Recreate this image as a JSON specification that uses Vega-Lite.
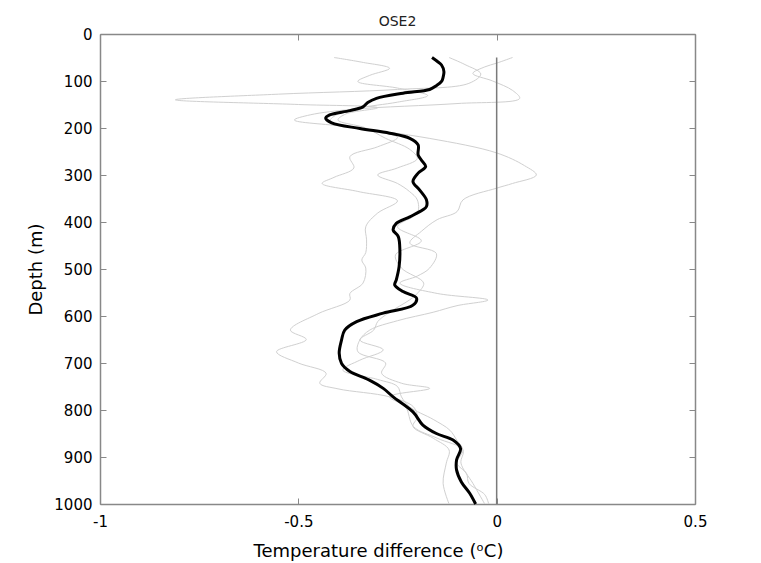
{
  "$schema": "https://vega.github.io/schema/vega-lite/v6.json",
  "width": 595,
  "height": 470,
  "autosize": {"type": "none"},
  "padding": {"left": 100, "top": 34, "right": 66, "bottom": 59},
  "background": "white",
  "config": {
    "view": {"stroke": null},
    "font": "DejaVu Sans"
  },
  "title": {"text": "OSE2", "fontSize": 14, "font": "DejaVu Sans", "fontWeight": "normal", "color": "#222", "offset": 5, "dy": 7, "anchor": "middle"},
  "datasets": {
    "mean": [
      {"depth": 50, "diff": -0.163}, {"depth": 58, "diff": -0.15}, {"depth": 66, "diff": -0.139}, {"depth": 80, "diff": -0.133},
      {"depth": 92, "diff": -0.135}, {"depth": 101, "diff": -0.139}, {"depth": 110, "diff": -0.152}, {"depth": 118, "diff": -0.169},
      {"depth": 126, "diff": -0.236}, {"depth": 137, "diff": -0.303}, {"depth": 146, "diff": -0.325}, {"depth": 155, "diff": -0.337},
      {"depth": 163, "diff": -0.37}, {"depth": 172, "diff": -0.421}, {"depth": 179, "diff": -0.431}, {"depth": 189, "diff": -0.416},
      {"depth": 201, "diff": -0.345}, {"depth": 211, "diff": -0.27}, {"depth": 222, "diff": -0.219}, {"depth": 236, "diff": -0.198},
      {"depth": 257, "diff": -0.198}, {"depth": 268, "diff": -0.19}, {"depth": 282, "diff": -0.179}, {"depth": 296, "diff": -0.198},
      {"depth": 314, "diff": -0.211}, {"depth": 332, "diff": -0.194}, {"depth": 353, "diff": -0.177}, {"depth": 367, "diff": -0.177},
      {"depth": 374, "diff": -0.186}, {"depth": 389, "diff": -0.219}, {"depth": 403, "diff": -0.253}, {"depth": 417, "diff": -0.261},
      {"depth": 431, "diff": -0.248}, {"depth": 460, "diff": -0.244}, {"depth": 495, "diff": -0.246}, {"depth": 523, "diff": -0.253},
      {"depth": 534, "diff": -0.257}, {"depth": 548, "diff": -0.236}, {"depth": 562, "diff": -0.202}, {"depth": 577, "diff": -0.211},
      {"depth": 594, "diff": -0.286}, {"depth": 612, "diff": -0.353}, {"depth": 630, "diff": -0.383}, {"depth": 651, "diff": -0.391},
      {"depth": 679, "diff": -0.397}, {"depth": 701, "diff": -0.391}, {"depth": 718, "diff": -0.37}, {"depth": 736, "diff": -0.322},
      {"depth": 754, "diff": -0.286}, {"depth": 772, "diff": -0.261}, {"depth": 804, "diff": -0.211}, {"depth": 832, "diff": -0.186},
      {"depth": 850, "diff": -0.152}, {"depth": 864, "diff": -0.11}, {"depth": 882, "diff": -0.091}, {"depth": 906, "diff": -0.101},
      {"depth": 928, "diff": -0.101}, {"depth": 953, "diff": -0.089}, {"depth": 977, "diff": -0.068}, {"depth": 1000, "diff": -0.053}
    ],
    "members": [
      {"run": "A", "depth": 50, "diff": -0.41}, {"run": "A", "depth": 60, "diff": -0.34}, {"run": "A", "depth": 73, "diff": -0.27},
      {"run": "A", "depth": 88, "diff": -0.32}, {"run": "A", "depth": 101, "diff": -0.35}, {"run": "A", "depth": 115, "diff": -0.25},
      {"run": "A", "depth": 131, "diff": -0.174}, {"run": "A", "depth": 145, "diff": -0.25}, {"run": "A", "depth": 158, "diff": -0.35},
      {"run": "A", "depth": 170, "diff": -0.4}, {"run": "A", "depth": 185, "diff": -0.42}, {"run": "A", "depth": 200, "diff": -0.35},
      {"run": "A", "depth": 220, "diff": -0.25}, {"run": "A", "depth": 240, "diff": -0.3}, {"run": "A", "depth": 261, "diff": -0.37},
      {"run": "A", "depth": 285, "diff": -0.36}, {"run": "A", "depth": 305, "diff": -0.41}, {"run": "A", "depth": 318, "diff": -0.44},
      {"run": "A", "depth": 335, "diff": -0.35}, {"run": "A", "depth": 355, "diff": -0.25}, {"run": "A", "depth": 381, "diff": -0.3},
      {"run": "A", "depth": 410, "diff": -0.33}, {"run": "A", "depth": 438, "diff": -0.328}, {"run": "A", "depth": 465, "diff": -0.33},
      {"run": "A", "depth": 481, "diff": -0.34}, {"run": "A", "depth": 498, "diff": -0.33}, {"run": "A", "depth": 530, "diff": -0.337},
      {"run": "A", "depth": 552, "diff": -0.37}, {"run": "A", "depth": 566, "diff": -0.37}, {"run": "A", "depth": 595, "diff": -0.45},
      {"run": "A", "depth": 630, "diff": -0.52}, {"run": "A", "depth": 650, "diff": -0.48}, {"run": "A", "depth": 676, "diff": -0.555},
      {"run": "A", "depth": 700, "diff": -0.5}, {"run": "A", "depth": 722, "diff": -0.43}, {"run": "A", "depth": 743, "diff": -0.446},
      {"run": "A", "depth": 755, "diff": -0.4}, {"run": "A", "depth": 772, "diff": -0.27}, {"run": "A", "depth": 793, "diff": -0.21},
      {"run": "A", "depth": 815, "diff": -0.2}, {"run": "A", "depth": 835, "diff": -0.211}, {"run": "A", "depth": 860, "diff": -0.16},
      {"run": "A", "depth": 885, "diff": -0.12}, {"run": "A", "depth": 913, "diff": -0.127}, {"run": "A", "depth": 956, "diff": -0.135},
      {"run": "A", "depth": 1000, "diff": -0.12},
      {"run": "B", "depth": 50, "diff": -0.12}, {"run": "B", "depth": 65, "diff": -0.08}, {"run": "B", "depth": 85, "diff": -0.04},
      {"run": "B", "depth": 105, "diff": -0.07}, {"run": "B", "depth": 118, "diff": -0.25}, {"run": "B", "depth": 128, "diff": -0.55},
      {"run": "B", "depth": 140, "diff": -0.81}, {"run": "B", "depth": 150, "diff": -0.5}, {"run": "B", "depth": 157, "diff": -0.3},
      {"run": "B", "depth": 170, "diff": -0.38}, {"run": "B", "depth": 183, "diff": -0.4}, {"run": "B", "depth": 200, "diff": -0.33},
      {"run": "B", "depth": 222, "diff": -0.28}, {"run": "B", "depth": 245, "diff": -0.22}, {"run": "B", "depth": 265, "diff": -0.2},
      {"run": "B", "depth": 285, "diff": -0.25}, {"run": "B", "depth": 300, "diff": -0.3}, {"run": "B", "depth": 318, "diff": -0.25},
      {"run": "B", "depth": 335, "diff": -0.22}, {"run": "B", "depth": 353, "diff": -0.2}, {"run": "B", "depth": 381, "diff": -0.2},
      {"run": "B", "depth": 410, "diff": -0.25}, {"run": "B", "depth": 440, "diff": -0.19}, {"run": "B", "depth": 470, "diff": -0.255},
      {"run": "B", "depth": 498, "diff": -0.24}, {"run": "B", "depth": 530, "diff": -0.184}, {"run": "B", "depth": 552, "diff": -0.2},
      {"run": "B", "depth": 566, "diff": -0.22}, {"run": "B", "depth": 592, "diff": -0.27}, {"run": "B", "depth": 612, "diff": -0.3},
      {"run": "B", "depth": 630, "diff": -0.31}, {"run": "B", "depth": 651, "diff": -0.345}, {"run": "B", "depth": 672, "diff": -0.286},
      {"run": "B", "depth": 694, "diff": -0.345}, {"run": "B", "depth": 715, "diff": -0.388}, {"run": "B", "depth": 735, "diff": -0.3},
      {"run": "B", "depth": 750, "diff": -0.25}, {"run": "B", "depth": 772, "diff": -0.24}, {"run": "B", "depth": 793, "diff": -0.22},
      {"run": "B", "depth": 820, "diff": -0.16}, {"run": "B", "depth": 843, "diff": -0.118}, {"run": "B", "depth": 865, "diff": -0.1},
      {"run": "B", "depth": 885, "diff": -0.085}, {"run": "B", "depth": 913, "diff": -0.1}, {"run": "B", "depth": 935, "diff": -0.076},
      {"run": "B", "depth": 956, "diff": -0.07}, {"run": "B", "depth": 980, "diff": -0.03}, {"run": "B", "depth": 1000, "diff": -0.02},
      {"run": "C", "depth": 50, "diff": 0.04}, {"run": "C", "depth": 62, "diff": 0.0}, {"run": "C", "depth": 70, "diff": -0.03},
      {"run": "C", "depth": 84, "diff": -0.06}, {"run": "C", "depth": 100, "diff": -0.01}, {"run": "C", "depth": 120, "diff": 0.04},
      {"run": "C", "depth": 137, "diff": 0.058}, {"run": "C", "depth": 148, "diff": -0.1}, {"run": "C", "depth": 160, "diff": -0.36},
      {"run": "C", "depth": 172, "diff": -0.47}, {"run": "C", "depth": 183, "diff": -0.51}, {"run": "C", "depth": 197, "diff": -0.38},
      {"run": "C", "depth": 222, "diff": -0.17}, {"run": "C", "depth": 253, "diff": 0.0}, {"run": "C", "depth": 280, "diff": 0.07},
      {"run": "C", "depth": 300, "diff": 0.1}, {"run": "C", "depth": 318, "diff": 0.04}, {"run": "C", "depth": 328, "diff": 0.0},
      {"run": "C", "depth": 353, "diff": -0.085}, {"run": "C", "depth": 378, "diff": -0.1}, {"run": "C", "depth": 395, "diff": -0.15},
      {"run": "C", "depth": 420, "diff": -0.19}, {"run": "C", "depth": 445, "diff": -0.219}, {"run": "C", "depth": 467, "diff": -0.152},
      {"run": "C", "depth": 498, "diff": -0.169}, {"run": "C", "depth": 515, "diff": -0.2}, {"run": "C", "depth": 530, "diff": -0.244},
      {"run": "C", "depth": 552, "diff": -0.15}, {"run": "C", "depth": 566, "diff": -0.022}, {"run": "C", "depth": 578, "diff": -0.1},
      {"run": "C", "depth": 592, "diff": -0.16}, {"run": "C", "depth": 610, "diff": -0.25}, {"run": "C", "depth": 630, "diff": -0.32},
      {"run": "C", "depth": 651, "diff": -0.345}, {"run": "C", "depth": 676, "diff": -0.35}, {"run": "C", "depth": 700, "diff": -0.28},
      {"run": "C", "depth": 722, "diff": -0.29}, {"run": "C", "depth": 743, "diff": -0.24}, {"run": "C", "depth": 754, "diff": -0.169},
      {"run": "C", "depth": 772, "diff": -0.27}, {"run": "C", "depth": 793, "diff": -0.23}, {"run": "C", "depth": 835, "diff": -0.21},
      {"run": "C", "depth": 860, "diff": -0.15}, {"run": "C", "depth": 885, "diff": -0.085}, {"run": "C", "depth": 913, "diff": -0.09},
      {"run": "C", "depth": 956, "diff": -0.06}, {"run": "C", "depth": 1000, "diff": -0.03}
    ],
    "zero": [{"diff": 0, "depth": 50, "depth2": 1000}]
  },
  "layer": [
    {
      "data": {"name": "members"},
      "mark": {"type": "line", "color": "#d0d0d0", "strokeWidth": 1, "interpolate": "catmull-rom"},
      "encoding": {
        "x": {"field": "diff", "type": "quantitative",
          "scale": {"domain": [-1, 0.5], "nice": false, "zero": false},
          "axis": {"orient": "bottom", "values": [-1, -0.5, 0, 0.5], "labelExpr": "toString(datum.value)",
            "title": "Temperature difference (ᵒC)", "titleFont": "DejaVu Sans", "titleFontSize": 18, "titleFontWeight": "normal", "titleColor": "#000",
            "titleX": 278, "titleY": 52, "titleAlign": "center", "titleBaseline": "alphabetic",
            "labelFont": "DejaVu Sans", "labelFontSize": 15, "labelColor": "#000", "labelPadding": 16, "labelFlush": false,
            "tickSize": -6, "tickColor": "#888", "domainColor": "#888", "domainWidth": 1.5, "grid": false}},
        "y": {"field": "depth", "type": "quantitative",
          "scale": {"domain": [0, 1000], "reverse": true, "nice": false, "zero": false},
          "axis": {"orient": "left", "values": [0, 100, 200, 300, 400, 500, 600, 700, 800, 900, 1000], "format": "d",
            "title": "Depth (m)", "titleFont": "DejaVu Sans", "titleFontSize": 18, "titleFontWeight": "normal", "titleColor": "#000",
            "titleX": -59, "titleY": 235, "titleAngle": -90, "titleAlign": "center", "titleBaseline": "alphabetic",
            "labelFont": "DejaVu Sans", "labelFontSize": 15, "labelColor": "#000", "labelPadding": 14, "labelFlush": false,
            "tickSize": -6, "tickColor": "#888", "domainColor": "#888", "domainWidth": 1.5, "grid": false}},
        "detail": {"field": "run"},
        "order": {"field": "depth"}
      }
    },
    {
      "data": {"name": "zero"},
      "mark": {"type": "rule", "color": "#7a7a7a", "strokeWidth": 1.5},
      "encoding": {
        "x": {"field": "diff", "type": "quantitative", "axis": null},
        "y": {"field": "depth", "type": "quantitative", "axis": null},
        "y2": {"field": "depth2"}
      }
    },
    {
      "data": {"name": "mean"},
      "mark": {"type": "line", "color": "#000000", "strokeWidth": 3, "interpolate": "catmull-rom"},
      "encoding": {
        "x": {"field": "diff", "type": "quantitative",
          "axis": {"orient": "top", "values": [-1, -0.5, 0, 0.5], "labels": false, "title": null,
            "tickSize": -6, "tickColor": "#888", "domainColor": "#888", "domainWidth": 1.5, "grid": false}},
        "y": {"field": "depth", "type": "quantitative",
          "axis": {"orient": "right", "values": [0, 100, 200, 300, 400, 500, 600, 700, 800, 900, 1000], "labels": false, "title": null,
            "tickSize": -6, "tickColor": "#888", "domainColor": "#888", "domainWidth": 1.5, "grid": false}},
        "order": {"field": "depth"}
      }
    }
  ],
  "resolve": {"axis": {"x": "independent", "y": "independent"}}
}
